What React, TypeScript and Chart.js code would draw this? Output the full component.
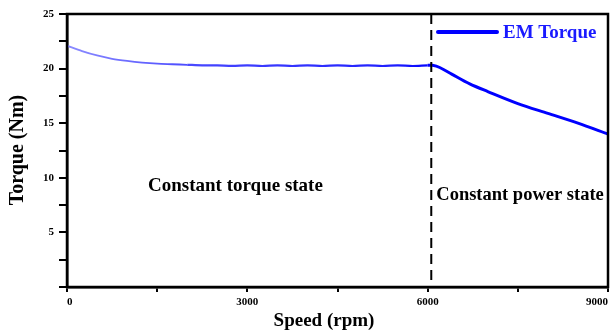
import React, { useEffect, useRef } from "react";
import { Chart, registerables } from "chart.js";

Chart.register(...registerables);

const speedRpm = [0, 250, 500, 750, 1000, 1250, 1500, 1750, 2000, 2250, 2500, 2750, 3000, 3250, 3500, 3750, 4000, 4250, 4500, 4750, 5000, 5250, 5500, 5750, 6000, 6080, 6200, 6400, 6700, 7000, 7500, 8000, 8500, 9000];
const emTorque = [22.1, 21.6, 21.2, 20.9, 20.7, 20.55, 20.45, 20.4, 20.35, 20.3, 20.3, 20.25, 20.3, 20.24, 20.3, 20.24, 20.3, 20.24, 20.3, 20.24, 20.3, 20.24, 20.3, 20.24, 20.3, 20.3, 20.1, 19.5, 18.6, 17.9, 16.8, 15.9, 15.0, 14.0];
const xTickLabels = ["0", "3000", "6000", "9000"];
const yTickLabels = ["5", "10", "15", "20", "25"];
const baseSpeed = 6060;
const seriesName = "EM Torque";
const regionLabels = ["Constant torque state", "Constant power state"];
const axisTitles = { x: "Speed (rpm)", y: "Torque (Nm)" };

const SERIF = "'Liberation Serif', 'Times New Roman', serif";

export default function App() {
  const ref = useRef<HTMLCanvasElement>(null);
  useEffect(() => {
    document.body.style.margin = "0";
    const canvas = ref.current!;
    const overlay = {
      id: "overlay",
      afterDraw(chart: any) {
        const { ctx, chartArea: ca, scales } = chart;
        const xs = scales.x;
        ctx.save();
        // frame
        ctx.strokeStyle = "#000";
        ctx.lineWidth = 2.5;
        ctx.strokeRect(ca.left, ca.top, ca.right - ca.left, ca.bottom - ca.top);
        // dashed base-speed line
        const bx = xs.getPixelForValue(baseSpeed);
        ctx.setLineDash([10, 6]);
        ctx.lineWidth = 2;
        ctx.beginPath();
        ctx.moveTo(bx, ca.top);
        ctx.lineTo(bx, ca.bottom);
        ctx.stroke();
        ctx.setLineDash([]);
        // legend
        ctx.strokeStyle = "#0000ff";
        ctx.lineWidth = 4;
        ctx.lineCap = "round";
        ctx.beginPath();
        ctx.moveTo(438, 32);
        ctx.lineTo(497, 32);
        ctx.stroke();
        ctx.fillStyle = "#1a1aff";
        ctx.font = `bold 19px ${SERIF}`;
        ctx.textBaseline = "middle";
        ctx.textAlign = "left";
        ctx.fillText(seriesName, 503, 33);
        // region labels
        ctx.fillStyle = "#000";
        ctx.font = `bold 19px ${SERIF}`;
        ctx.fillText(regionLabels[0], 148, 186);
        ctx.font = `bold 18.5px ${SERIF}`;
        ctx.fillText(regionLabels[1], bx + 5, 195);
        // axis titles
        ctx.font = `bold 19px ${SERIF}`;
        ctx.textAlign = "center";
        ctx.fillText(axisTitles.x, 324, 321);
        ctx.font = `bold 20px ${SERIF}`;
        ctx.translate(18, 150);
        ctx.rotate(-Math.PI / 2);
        ctx.fillText(axisTitles.y, 0, 0);
        ctx.restore();
      },
    };
    const chart = new Chart(canvas, {
      type: "line",
      data: {
        datasets: [
          {
            label: seriesName,
            data: speedRpm.map((s, i) => ({ x: s, y: emTorque[i] })),
            borderColor: (c: any) => {
              const ca = c.chart.chartArea;
              if (!ca) return "#0000ff";
              const g = c.chart.ctx.createLinearGradient(ca.left, 0, ca.right, 0);
              g.addColorStop(0, "#8c8cff");
              g.addColorStop(0.25, "#4545ff");
              g.addColorStop(0.6, "#2020ff");
              g.addColorStop(0.68, "#0000ff");
              g.addColorStop(1, "#0000ff");
              return g;
            },
            segment: {
              borderWidth: (c: any) => (c.p0.parsed.x >= 6000 ? 3 : c.p0.parsed.x >= 2000 ? 2.2 : 1.8),
            },
            borderWidth: 2,
            pointRadius: 0,
            tension: 0.3,
            fill: false,
          },
        ],
      },
      options: {
        animation: false,
        responsive: false,
        maintainAspectRatio: false,
        layout: { padding: { top: 14, right: 6, left: 0, bottom: 0 } },
        plugins: { legend: { display: false }, tooltip: { enabled: false } },
        scales: {
          x: {
            type: "linear",
            min: 0,
            max: 9000,
            afterFit: (s: any) => { s.height = 46; s.paddingRight = 0; s.paddingLeft = 0; },
            border: { display: true, color: "#000", width: 2.5 },
            grid: { drawOnChartArea: false, drawTicks: true, tickLength: 5, color: "#000", lineWidth: 2 },
            ticks: {
              stepSize: 1500,
              autoSkip: false,
              maxRotation: 0,
              padding: 4,
              align: "inner",
              color: "#000",
              font: { family: SERIF, size: 11, weight: "bold" },
              callback: (v: any) => {
                const idx = Number(v) / 3000;
                return Number.isInteger(idx) ? xTickLabels[idx] : "";
              },
            },
          },
          y: {
            min: 0,
            max: 25,
            afterFit: (s: any) => { s.width = 67; s.paddingTop = 0; s.paddingBottom = 0; },
            border: { display: true, color: "#000", width: 2.5 },
            grid: { drawOnChartArea: false, drawTicks: true, tickLength: 8, color: "#000", lineWidth: 2 },
            ticks: {
              stepSize: 2.5,
              autoSkip: false,
              padding: 5,
              color: "#000",
              font: { family: SERIF, size: 11, weight: "bold" },
              callback: (v: any) => {
                const idx = Number(v) / 5;
                return Number.isInteger(idx) && idx > 0 ? yTickLabels[idx - 1] : "";
              },
            },
          },
        },
      },
      plugins: [overlay],
    });
    return () => chart.destroy();
  }, []);
  return (
    <div style={{ position: "absolute", left: 0, top: 0, width: 614, height: 333 }}>
      <canvas ref={ref} width={614} height={333} style={{ width: 614, height: 333 }} />
    </div>
  );
}
